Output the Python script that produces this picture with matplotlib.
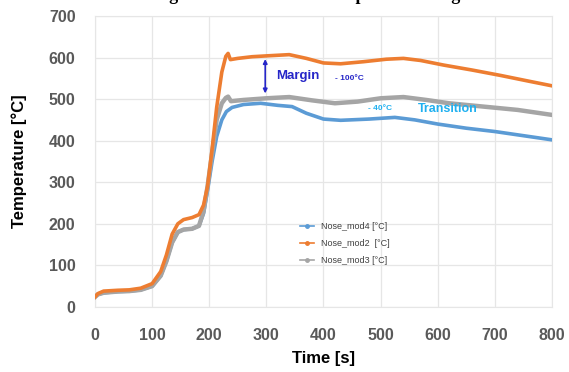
import matplotlib.pyplot as plt

# time [s] and temperature [°C]
t_mod2 = [0, 5, 15, 40, 60, 80, 100, 115, 125, 135, 145, 155, 170, 182, 190, 197, 205, 213, 222, 229, 233, 237,
          250, 275, 300, 340, 370, 400, 430, 470, 510, 540, 570, 610, 660, 710, 760, 800]
T_mod2 = [24, 32, 38, 40, 41, 45, 56, 85, 125, 175, 200, 210, 215, 222, 245, 290, 380, 480, 565, 603, 610, 595,
          598, 602, 604, 607, 598, 587, 585, 590, 596, 598, 593, 582, 570, 557, 543, 532]

t_mod3 = [0, 5, 15, 40, 60, 80, 100, 115, 125, 135, 145, 155, 170, 182, 190, 197, 205, 213, 222, 229, 233, 238,
          260, 300, 340, 380, 420, 460, 500, 540, 580, 620, 680, 740, 800]
T_mod3 = [24, 30, 34, 37, 38, 41, 50, 75, 110, 155, 180, 186, 188, 195, 230, 290, 370, 450, 490, 503, 506, 495,
          498, 502, 505, 497, 490, 494, 502, 505, 498, 490, 482, 474, 462]

t_mod4 = [0, 5, 15, 40, 60, 80, 100, 115, 125, 135, 145, 155, 170, 182, 190, 197, 205, 213, 222, 230, 240,
          260, 290, 320, 345, 370, 400, 430, 480, 525, 560, 600, 650, 700, 760, 800]
T_mod4 = [24, 30, 34, 37, 38, 41, 50, 75, 110, 155, 180, 186, 188, 195, 225, 280, 350, 410, 450, 470, 480,
          487, 490, 485, 482, 466, 452, 449, 452, 456, 450, 440, 430, 422, 410, 402]

x_ticks = [0, 100, 200, 300, 400, 500, 600, 700, 800]
y_ticks = [0, 100, 200, 300, 400, 500, 600, 700]

plt.rcParams['font.family'] = ['Liberation Sans', 'DejaVu Sans']

fig = plt.figure(figsize=(5.69, 3.72), dpi=100)
ax = fig.add_axes([0.167, 0.175, 0.803, 0.782])

ax.plot(t_mod4, T_mod4, color='#5B9BD5', lw=2.6, label='Nose_mod4 [°C]', zorder=3)
ax.plot(t_mod2, T_mod2, color='#ED7D31', lw=2.6, label='Nose_mod2  [°C]', zorder=4)
ax.plot(t_mod3, T_mod3, color='#A5A5A5', lw=3.2, label='Nose_mod3 [°C]', zorder=3)

ax.set_xlim(0, 800)
ax.set_ylim(0, 700)
ax.set_xticks(x_ticks)
ax.set_yticks(y_ticks)
ax.grid(True, color='#E6E6E6', lw=0.9)
ax.set_axisbelow(True)
for s in ax.spines.values():
    s.set_color('#E6E6E6')
ax.tick_params(axis='y', length=0, pad=14, labelsize=11.5, labelcolor='#595959')
ax.tick_params(axis='x', length=0, pad=15, labelsize=11.5, labelcolor='#595959')
for lab in ax.get_xticklabels() + ax.get_yticklabels():
    lab.set_fontweight('bold')

ax.set_xlabel('Time [s]', fontsize=12, fontweight='bold', labelpad=6)
ax.set_ylabel('Temperature [°C]', fontsize=12, fontweight='bold', labelpad=16)

# annotations
ax.annotate('', xy=(298, 603), xytext=(298, 507),
            arrowprops=dict(arrowstyle='<|-|>', color='#2626C8', lw=1.2, mutation_scale=6))
ax.text(317, 556, 'Margin', color='#2626C8', fontsize=9.5, fontweight='bold', va='center')
ax.text(420, 549, '- 100°C', color='#2626C8', fontsize=6, fontweight='bold', va='center')
ax.text(478, 478, '- 40°C', color='#1FB0F0', fontsize=6, fontweight='bold', va='center')
ax.text(565, 476, 'Transition', color='#1FB0F0', fontsize=9, fontweight='bold', va='center')

leg = ax.legend(loc='upper left', bbox_to_anchor=(0.43, 0.32), frameon=False, fontsize=6.5,
                handlelength=1.6, labelspacing=0.9)
for h in leg.legend_handles:
    h.set_linewidth(1.2)
    h.set_marker('o')
    h.set_markersize(2.5)
    h.set_markevery([1])
for txt in leg.get_texts():
    txt.set_color('#404040')

# title of the source figure, cut off at the top edge as in the original
fig.text(0.64, 1.012, 'Figure 5: Nose Model Temp. vs. Coating and Insulation', ha='center', va='center',
         fontsize=13, fontweight='bold', family='Liberation Serif')

fig.savefig('out.png', dpi=100)
